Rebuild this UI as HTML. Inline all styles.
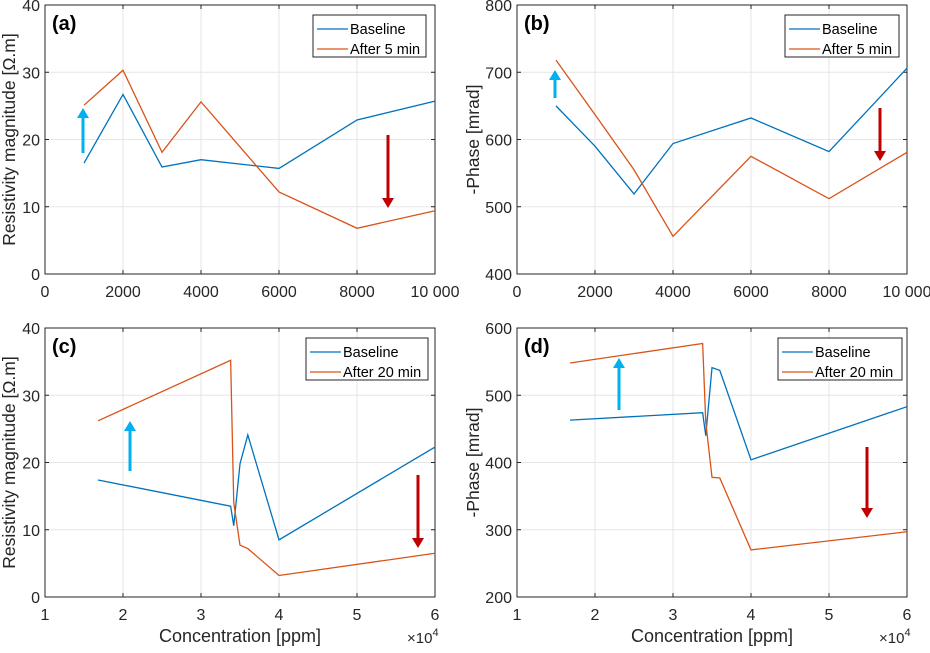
<!DOCTYPE html>
<html><head><meta charset="utf-8"><style>
body{margin:0;background:#fff;width:930px;height:648px;overflow:hidden;font-family:"Liberation Sans",sans-serif}
svg text{font-family:"Liberation Sans",sans-serif}
</style></head><body>
<svg id="fig" width="930" height="648" xmlns="http://www.w3.org/2000/svg"></svg>
<script>
// Panel (a)
const aX=[1000,2000,3000,4000,6000,8000,10000];
const aBase=[16.5,26.7,15.9,17.0,15.7,22.9,25.7];
const aAfter=[25.1,30.3,18.1,25.6,12.2,6.8,9.4];
// Panel (b)
const bX=[1000,2000,3000,4000,6000,8000,10000];
const bBase=[650,590,519,594,632,582,706];
const bAfter=[718,637,555,456,575,512,581];
// Panel (c)
const cX=[1.68,3.38,3.42,3.5,3.6,4,6];
const cBase=[17.4,13.5,10.6,19.8,24.1,8.5,22.3];
const cAfter=[26.2,35.2,14,7.7,7.2,3.2,6.5];
// Panel (d)
const dX=[1.68,3.38,3.42,3.5,3.6,4,6];
const dBase=[463,474,440,541,537,404,483];
const dAfter=[548,577,460,378,377,270,297];
const xTicksTop=[0,2000,4000,6000,8000,10000];
const xTickLabelsTop=["0","2000","4000","6000","8000","10 000"];
const xTicksBot=[1,2,3,4,5,6];
const yTicksA=[0,10,20,30,40];
const yTicksB=[400,500,600,700,800];
const yTicksD=[200,300,400,500,600];

const NS="http://www.w3.org/2000/svg";
const svg=document.getElementById('fig');
function el(t,a,p){const e=document.createElementNS(NS,t);for(const k in a)e.setAttribute(k,a[k]);(p||svg).appendChild(e);return e;}

function panel(o){
  const g=el('g',{});
  
  
  const sx=v=>o.l+(v-o.x0)/(o.x1-o.x0)*(o.r-o.l);
  const sy=v=>o.b-(v-o.y0)/(o.y1-o.y0)*(o.b-o.t);
  o.xt.forEach((v,i)=>{
    if(i>0&&i<o.xt.length-1){const gl=el('line',{x1:sx(v),x2:sx(v),y1:o.t,y2:o.b,stroke:'#e6e6e6','stroke-width':1},g);
      }
    const tx=el('text',{x:sx(v),y:o.b+23,'text-anchor':'middle','font-size':16,fill:'#262626'},g);
    tx.textContent=o.xl[i];
    
    el('line',{x1:sx(v),x2:sx(v),y1:o.b,y2:o.b-4,stroke:'#262626'},g);
    el('line',{x1:sx(v),x2:sx(v),y1:o.t,y2:o.t+4,stroke:'#262626'},g);
  });
  o.yt.forEach((v,i)=>{
    if(i>0&&i<o.yt.length-1){const gl=el('line',{x1:o.l,x2:o.r,y1:sy(v),y2:sy(v),stroke:'#e6e6e6','stroke-width':1},g);
      }
    const tx=el('text',{x:o.l-5,y:sy(v)+6,'text-anchor':'end','font-size':16,fill:'#262626'},g);
    tx.textContent=String(v);
    
    el('line',{x1:o.l,x2:o.l+4,y1:sy(v),y2:sy(v),stroke:'#262626'},g);
    el('line',{x1:o.r,x2:o.r-4,y1:sy(v),y2:sy(v),stroke:'#262626'},g);
  });
  const fr=el('rect',{x:o.l,y:o.t,width:o.r-o.l,height:o.b-o.t,fill:'none',stroke:'#262626','stroke-width':1},g);
  
  const mk=(xs,ys,c,n)=>{const p=el('polyline',{points:xs.map((x,i)=>sx(x)+','+sy(ys[i])).join(' '),fill:'none',stroke:c,'stroke-width':1.3},g);
    };
  mk(o.X,o.B,'#0072BD','baseline-line');
  mk(o.X,o.A,'#D95319','after-line');
  const arr=(x,y1,y2,c,n)=>{const a=el('g',{},g);
    const d=y2<y1?-1:1;
    el('line',{x1:x,x2:x,y1:y1,y2:y2-d*9,stroke:c,'stroke-width':3},a);
    el('polygon',{points:`${x-6},${y2-d*10} ${x+6},${y2-d*10} ${x},${y2}`,fill:c},a);};
  arr(o.ua[0],o.ua[1],o.ua[2],'#00B0F0','up-arrow');
  arr(o.da[0],o.da[1],o.da[2],'#C00000','down-arrow');
  const lb=el('text',{x:o.l+7,y:o.t+25,'font-size':20,'font-weight':'bold',fill:'#000'},g);
  lb.textContent=o.label;
  const lg=el('g',{},g);
  el('rect',{x:o.lg,y:o.t+10,width:o.lw,height:42,fill:'#fff',stroke:'#262626','stroke-width':1},lg);
  [['Baseline','#0072BD'],[o.after,'#D95319']].forEach((e,i)=>{
    const yy=o.t+24+i*20;
    const en=el('g',{},lg);
    el('line',{x1:o.lg+4,x2:o.lg+35,y1:yy,y2:yy,stroke:e[1],'stroke-width':1.3},en);
    const t=el('text',{x:o.lg+37,y:yy+5,'font-size':14.5,fill:'#000'},en);t.textContent=e[0];
  });
  const yt=el('text',{x:0,y:0,transform:`translate(${o.l-o.yoff},${(o.t+o.b)/2}) rotate(-90)`,'text-anchor':'middle','font-size':17.5,fill:'#262626'},g);
  yt.textContent=o.ytitle;
  if(o.xtitle){
    const xt=el('text',{x:(o.l+o.r)/2,y:o.b+45,'text-anchor':'middle','font-size':18,fill:'#262626'},g);
    xt.textContent=o.xtitle;
    const ex=el('text',{x:o.r-28,y:o.b+46,'font-size':15,fill:'#262626'},g);
    ex.innerHTML='×10<tspan dy="-7" font-size="11">4</tspan>';
    
  }
}
const rT=5,rB=274,r2T=328,r2B=597,cL=45,cR=435,c2L=517,c2R=907;
panel({name:'panel-a',label:'(a)',l:cL,r:cR,t:rT,b:rB,x0:0,x1:10000,y0:0,y1:40,xt:xTicksTop,xl:xTickLabelsTop,yt:yTicksA,X:aX,B:aBase,A:aAfter,after:'After 5 min',lg:313,lw:113,ytitle:'Resistivity magnitude [Ω.m]',yoff:30,ua:[83,153,108],da:[388,135,208]});
panel({name:'panel-b',label:'(b)',l:c2L,r:c2R,t:rT,b:rB,x0:0,x1:10000,y0:400,y1:800,xt:xTicksTop,xl:xTickLabelsTop,yt:yTicksB,X:bX,B:bBase,A:bAfter,after:'After 5 min',lg:785,lw:114,ytitle:'-Phase [mrad]',yoff:38,ua:[555,98,70],da:[880,108,161]});
panel({name:'panel-c',label:'(c)',l:cL,r:cR,t:r2T,b:r2B,x0:1,x1:6,y0:0,y1:40,xt:xTicksBot,xl:xTicksBot.map(String),yt:yTicksA,X:cX,B:cBase,A:cAfter,after:'After 20 min',lg:306,lw:122,ytitle:'Resistivity magnitude [Ω.m]',yoff:30,xtitle:'Concentration [ppm]',ua:[130,471,421],da:[418,475,548]});
panel({name:'panel-d',label:'(d)',l:c2L,r:c2R,t:r2T,b:r2B,x0:1,x1:6,y0:200,y1:600,xt:xTicksBot,xl:xTicksBot.map(String),yt:yTicksD,X:dX,B:dBase,A:dAfter,after:'After 20 min',lg:778,lw:124,ytitle:'-Phase [mrad]',yoff:38,xtitle:'Concentration [ppm]',ua:[619,410,358],da:[867,447,518]});
</script>
</body></html>
